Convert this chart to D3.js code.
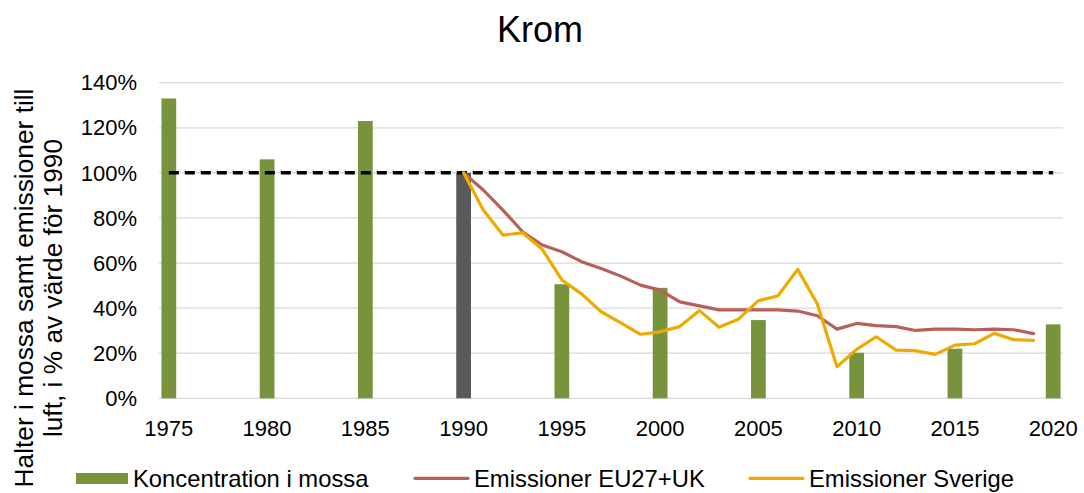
<!DOCTYPE html>
<html>
<head>
<meta charset="utf-8">
<script src="https://cdn.jsdelivr.net/npm/d3@7"></script>
<style>
  html, body { margin: 0; padding: 0; background: #fff; }
  text { font-family: Arial, "Liberation Sans", sans-serif; fill: #000; }
</style>
</head>
<body>
<svg id="chart" width="1084" height="493"></svg>
<script>
const title = "Krom";
const yTitleLines = ["Halter i mossa samt emissioner till", "luft, i % av värde för 1990"];
const years = d3.range(1975, 2021);
const tickYears = [1975, 1980, 1985, 1990, 1995, 2000, 2005, 2010, 2015, 2020];
const yTicks = [0, 0.2, 0.4, 0.6, 0.8, 1.0, 1.2, 1.4];

const mossYears = [1975, 1980, 1985, 1990, 1995, 2000, 2005, 2010, 2015, 2020];
const mossValues = [1.33, 1.06, 1.23, 1.00, 0.506, 0.49, 0.347, 0.202, 0.22, 0.328];

const emisYears = d3.range(1990, 2020);
const euValues = [1.00, 0.924, 0.835, 0.739, 0.68, 0.65, 0.606, 0.576, 0.542, 0.502,
                  0.48, 0.428, 0.41, 0.392, 0.392, 0.392, 0.392, 0.387, 0.366, 0.307,
                  0.332, 0.322, 0.318, 0.301, 0.307, 0.307, 0.304, 0.307, 0.304, 0.287];
const seValues = [1.00, 0.835, 0.724, 0.734, 0.661, 0.525, 0.463, 0.384, 0.335, 0.284,
                  0.295, 0.318, 0.389, 0.315, 0.352, 0.433, 0.455, 0.572, 0.418, 0.14,
                  0.217, 0.273, 0.214, 0.211, 0.195, 0.236, 0.242, 0.288, 0.26, 0.257];

const legendLabels = ["Koncentration i mossa", "Emissioner EU27+UK", "Emissioner Sverige"];

const colGreen = "#77933C", colGray = "#58595B", colRed = "#B5615A", colYellow = "#EEAA00";

const svg = d3.select("#chart");
const x = d3.scaleBand().domain(years).range([159, 1063]).paddingInner(0.25).paddingOuter(0.125);
const y = d3.scaleLinear().domain([0, 1.4]).range([398.3, 82.7]);
const cx = d3.scaleLinear().domain([1975, 1976]).range([x(1975) + x.bandwidth()/2, x(1976) + x.bandwidth()/2]);

// gridlines
svg.append("g").selectAll("line").data(yTicks).join("line")
  .attr("x1", 159).attr("x2", 1063)
  .attr("y1", d => y(d)).attr("y2", d => y(d))
  .attr("stroke", "#D9D9D9").attr("stroke-width", 1.3);

// y tick labels
svg.append("g").selectAll("text").data(yTicks).join("text")
  .attr("x", 137).attr("y", d => y(d)).attr("dy", "0.35em")
  .attr("text-anchor", "end").attr("font-size", 22)
  .text(d => Math.round(d * 100) + "%");

// x tick labels
svg.append("g").selectAll("text").data(tickYears).join("text")
  .attr("x", d => cx(d)).attr("y", 435.5)
  .attr("text-anchor", "middle").attr("font-size", 22)
  .text(d => d);

// bars
svg.append("g").selectAll("rect").data(mossYears.map((yr, i) => ({yr, v: mossValues[i]}))).join("rect")
  .attr("x", d => x(d.yr)).attr("width", x.bandwidth())
  .attr("y", d => y(d.v)).attr("height", d => y(0) - y(d.v))
  .attr("fill", d => d.yr === 1990 ? colGray : colGreen);

// dashed 100% line
svg.append("line")
  .attr("x1", cx(1975)).attr("x2", cx(2020))
  .attr("y1", y(1)).attr("y2", y(1))
  .attr("stroke", "#000").attr("stroke-width", 3.5)
  .attr("stroke-dasharray", "10,6");

const line = d3.line().x(d => cx(d[0])).y(d => y(d[1]));
svg.append("path").datum(emisYears.map((yr, i) => [yr, euValues[i]]))
  .attr("d", line).attr("fill", "none").attr("stroke", colRed).attr("stroke-width", 3.2)
  .attr("stroke-linejoin", "round").attr("stroke-linecap", "round");
svg.append("path").datum(emisYears.map((yr, i) => [yr, seValues[i]]))
  .attr("d", line).attr("fill", "none").attr("stroke", colYellow).attr("stroke-width", 3.2)
  .attr("stroke-linejoin", "round").attr("stroke-linecap", "round");

// title
svg.append("text").attr("x", 540).attr("y", 42).attr("text-anchor", "middle")
  .attr("font-size", 36).text(title);

// y axis title
svg.append("g").attr("transform", "translate(0,288) rotate(-90)")
  .selectAll("text").data(yTitleLines).join("text")
  .attr("x", 0).attr("y", (d, i) => 33 + i * 29)
  .attr("text-anchor", "middle").attr("font-size", 26.3)
  .text(d => d);

// legend
const lg = svg.append("g");
lg.append("rect").attr("x", 76).attr("y", 473).attr("width", 52).attr("height", 11).attr("fill", colGreen);
lg.append("line").attr("x1", 415).attr("x2", 468).attr("y1", 478.3).attr("y2", 478.3)
  .attr("stroke", colRed).attr("stroke-width", 3.2).attr("stroke-linecap", "round");
lg.append("line").attr("x1", 750).attr("x2", 803).attr("y1", 478.3).attr("y2", 478.3)
  .attr("stroke", colYellow).attr("stroke-width", 3.2).attr("stroke-linecap", "round");
const legX = [133, 474, 809];
lg.selectAll("text").data(legendLabels).join("text")
  .attr("x", (d, i) => legX[i]).attr("y", 486.5)
  .attr("font-size", 23.8).text(d => d);
</script>
</body>
</html>
